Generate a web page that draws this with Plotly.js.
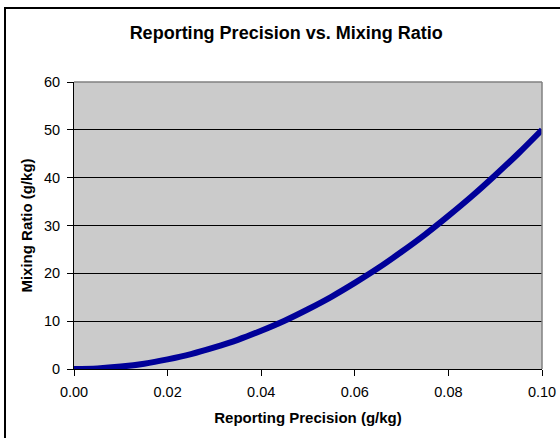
<!DOCTYPE html>
<html>
<head>
<meta charset="utf-8">
<script src="https://cdn.plot.ly/plotly-3.0.1.min.js"></script>
<style>
  html, body { margin: 0; padding: 0; background: #fff; }
  #wrap { position: relative; width: 560px; height: 438px; }
  #chart { position: absolute; left: 0; top: 0; width: 560px; height: 438px; }
  #frame { position: absolute; left: 4px; top: 7px; width: 560px; height: 440px;
           border-left: 2px solid #000; border-top: 2px solid #000; box-sizing: border-box;
           pointer-events: none; }
</style>
</head>
<body>
<div id="wrap">
  <div id="chart"></div>
  <div id="frame"></div>
</div>
<script>
// Reporting precision (g/kg) and the mixing ratio (g/kg) it corresponds to
const precision = [0.000, 0.005, 0.010, 0.015, 0.020, 0.025, 0.030, 0.035, 0.040, 0.045,
                   0.050, 0.055, 0.060, 0.065, 0.070, 0.075, 0.080, 0.085, 0.090, 0.095, 0.100];
const mixingRatio = [0.0, 0.12, 0.5, 1.1, 2.0, 3.1, 4.5, 6.1, 8.0, 10.1,
                     12.5, 15.1, 18.0, 21.1, 24.5, 28.1, 32.0, 36.1, 40.5, 45.1, 50.0];
const xTicks = [0, 0.02, 0.04, 0.06, 0.08, 0.10];
const xTickText = ['0.00', '0.02', '0.04', '0.06', '0.08', '0.10'];
const yTicks = [0, 10, 20, 30, 40, 50, 60];

const font = 'Liberation Sans, Arial, sans-serif';

const trace = {
  x: precision,
  y: mixingRatio,
  type: 'scatter',
  mode: 'lines',
  line: { color: '#000099', width: 6, shape: 'spline' },
  hoverinfo: 'skip'
};

const layout = {
  width: 560,
  height: 438,
  margin: { l: 74, r: 18, t: 82, b: 69, pad: 0 },
  paper_bgcolor: 'rgba(0,0,0,0)',
  plot_bgcolor: '#CBCBCB',
  showlegend: false,
  font: { family: font, size: 14, color: '#000' },
  title: {
    text: '<b>Reporting Precision vs. Mixing Ratio</b>',
    font: { family: font, size: 18, color: '#000' },
    x: 0.511, xref: 'container', xanchor: 'center',
    y: 0.925, yref: 'container', yanchor: 'middle'
  },
  xaxis: {
    range: [0, 0.1],
    tickvals: xTicks,
    ticktext: xTickText,
    ticks: 'outside', ticklen: 6, tickcolor: '#000', tickwidth: 1,
    ticklabelstandoff: 4,
    showline: true, linecolor: '#000', linewidth: 1,
    showgrid: false, zeroline: false,
    tickfont: { family: font, size: 14.5, color: '#000' },
    title: { text: '<b>Reporting Precision (g/kg)</b>', font: { family: font, size: 15, color: '#000' }, standoff: 13 },
    fixedrange: true
  },
  yaxis: {
    range: [0, 60],
    tickvals: yTicks,
    ticks: 'outside', ticklen: 6, tickcolor: '#000', tickwidth: 1,
    ticklabelstandoff: 4,
    showline: true, linecolor: '#000', linewidth: 1,
    showgrid: true, gridcolor: '#000', gridwidth: 1,
    zeroline: false,
    tickfont: { family: font, size: 14.5, color: '#000' },
    title: { text: '<b>Mixing Ratio (g/kg)</b>', font: { family: font, size: 15, color: '#000' }, standoff: 7 },
    fixedrange: true
  },
  shapes: [
    // gray border on the top and right of the plot area
    { type: 'line', xref: 'paper', yref: 'paper', x0: 0, x1: 1, y0: 1, y1: 1, line: { color: '#808080', width: 1.5 } },
    { type: 'line', xref: 'paper', yref: 'paper', x0: 1, x1: 1, y0: 0, y1: 1, line: { color: '#808080', width: 1.5 } }
  ]
};

Plotly.newPlot('chart', [trace], layout, { staticPlot: true, displayModeBar: false });
</script>
</body>
</html>
